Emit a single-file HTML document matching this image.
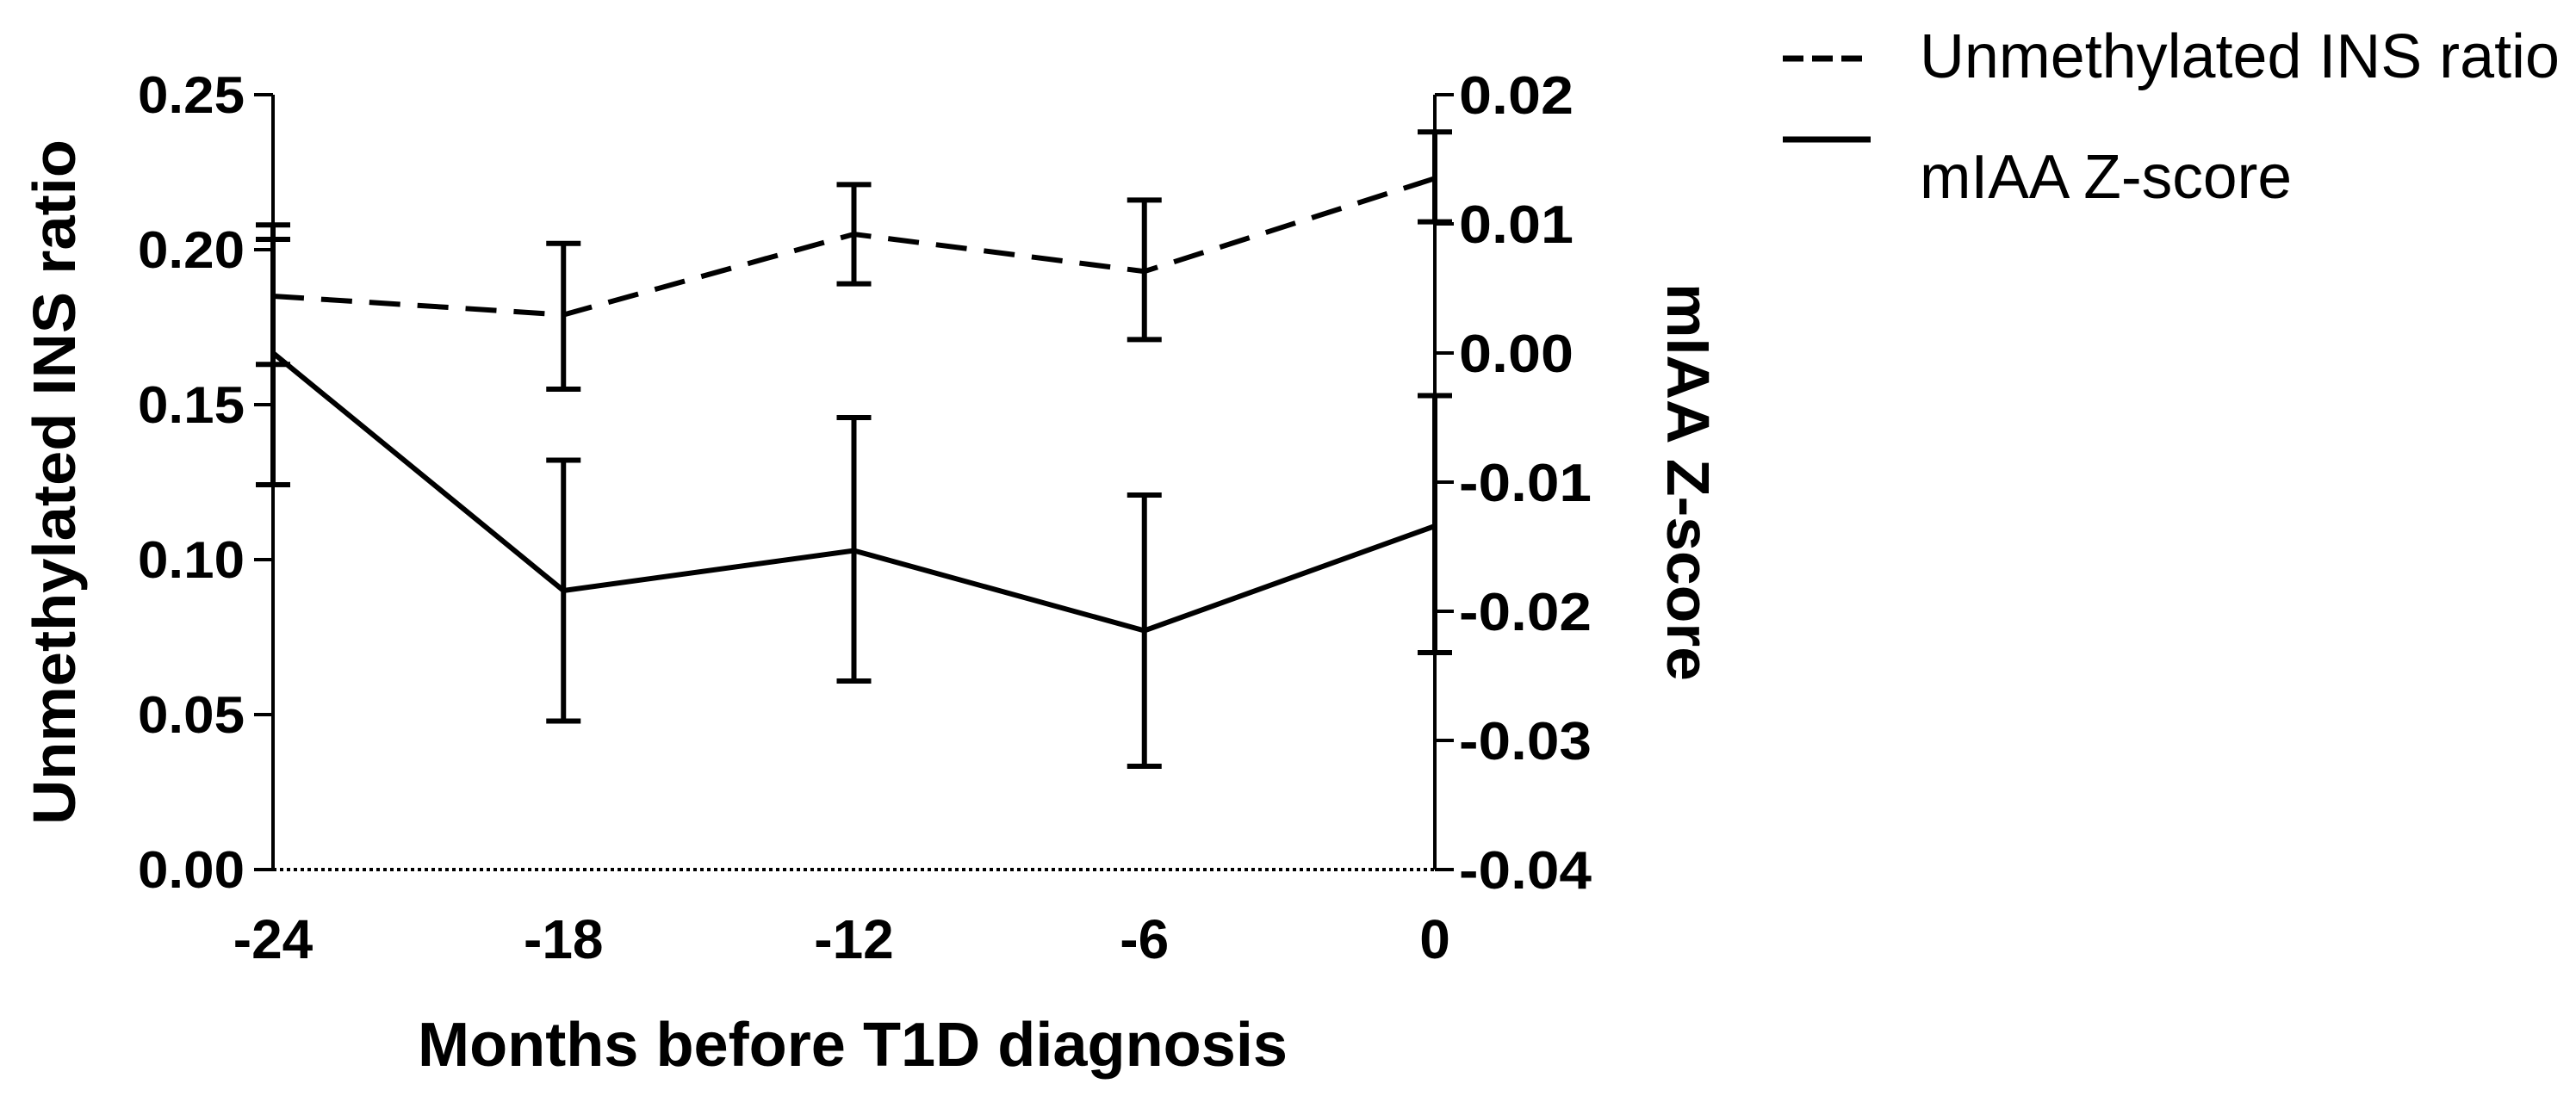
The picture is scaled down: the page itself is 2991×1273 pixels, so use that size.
<!DOCTYPE html>
<html><head><meta charset="utf-8"><style>
html,body{margin:0;padding:0;background:#fff;}
svg{display:block;font-family:"Liberation Sans",Arial,sans-serif;}
</style></head><body>
<svg id="chart" width="2991" height="1273" viewBox="0 0 2991 1273"></svg>
<script>
const months=[-24,-18,-12,-6,0];
const xTicks=["-24","-18","-12","-6","0"];
const insMean=[0.185,0.179,0.205,0.193,0.223];
const insUpper=[0.208,0.202,0.221,0.216,0.238];
const insLower=[0.163,0.155,0.189,0.171,0.209];
const zMean=[0.0,-0.0184,-0.0153,-0.0215,-0.0134];
const zUpper=[0.0088,-0.0083,-0.005,-0.011,-0.0033];
const zLower=[-0.0102,-0.0285,-0.0254,-0.032,-0.0232];
const leftTicks=[0,0.05,0.10,0.15,0.20,0.25];
const leftLabels=["0.00","0.05","0.10","0.15","0.20","0.25"];
const rightTicks=[-0.04,-0.03,-0.02,-0.01,0,0.01,0.02];
const rightLabels=["-0.04","-0.03","-0.02","-0.01","0.00","0.01","0.02"];

const X0=317,X1=1666,YT=110,YB=1010;
const xs=m=>X0+(m+24)/24*(X1-X0);
const yl=v=>YB-v/0.25*(YB-YT);
const yr=v=>YB-(v+0.04)/0.06*(YB-YT);
const svg=document.getElementById('chart');
const NS='http://www.w3.org/2000/svg';
function mk(t,a,txt){const e=document.createElementNS(NS,t);for(const k in a)e.setAttribute(k,a[k]);if(txt!==undefined)e.textContent=txt;svg.appendChild(e);return e;}

let e;
e=mk('line',{x1:X0,y1:YT,x2:X0,y2:YB,stroke:'#000','stroke-width':4});


e=mk('line',{x1:X1,y1:YT,x2:X1,y2:YB,stroke:'#000','stroke-width':4});


e=mk('line',{x1:X0,y1:YB,x2:X1,y2:YB,stroke:'#000','stroke-width':4,'stroke-dasharray':'4 4'});



leftTicks.forEach((v,i)=>{
  e=mk('line',{x1:X0-22,y1:yl(v),x2:X0,y2:yl(v),stroke:'#000','stroke-width':4});
  
  
  e=mk('text',{x:160,y:yl(v)+21,'font-size':60,'font-weight':'bold',textLength:124,lengthAdjust:'spacingAndGlyphs'},leftLabels[i]);
  
  
});
rightTicks.forEach((v,i)=>{
  e=mk('line',{x1:X1,y1:yr(v),x2:X1+22,y2:yr(v),stroke:'#000','stroke-width':4});
  
  
  e=mk('text',{x:X1+28,y:yr(v)+22,'text-anchor':'start','font-size':62,'font-weight':'bold',textLength:v<0?154:133,lengthAdjust:'spacingAndGlyphs'},rightLabels[i]);
  
  
});
months.forEach((m,i)=>{
  e=mk('text',{x:xs(m),y:1113,'text-anchor':'middle','font-size':64,'font-weight':'bold'},xTicks[i]);
  
  
});

function series(mean,up,lo,yf,dash,name){
  months.forEach((m,i)=>{
    const x=xs(m);
    e=mk('path',{d:`M${x} ${yf(up[i])}V${yf(lo[i])}M${x-20} ${yf(up[i])}H${x+20}M${x-20} ${yf(lo[i])}H${x+20}`,stroke:'#000','stroke-width':6,fill:'none'});
    
    
  });
  const d=months.map((m,i)=>(i?'L':'M')+xs(m)+' '+yf(mean[i])).join('');
  const a={d:d,stroke:'#000','stroke-width':6,fill:'none'};
  if(dash)a['stroke-dasharray']='36 20';
  e=mk('path',a);
  
  
}
series(insMean,insUpper,insLower,yl,true,'unmethylated-ins');
series(zMean,zUpper,zLower,yr,false,'miaa-zscore');

e=mk('text',{x:0,y:0,transform:'translate(87,560) rotate(-90)','text-anchor':'middle','font-size':70,'font-weight':'bold',textLength:796,lengthAdjust:'spacingAndGlyphs'},'Unmethylated INS ratio');


e=mk('text',{x:0,y:0,transform:'translate(1936,560) rotate(90)','text-anchor':'middle','font-size':70,'font-weight':'bold',textLength:462,lengthAdjust:'spacingAndGlyphs'},'mIAA Z-score');


e=mk('text',{x:990,y:1238,'text-anchor':'middle','font-size':72,'font-weight':'bold',textLength:1010,lengthAdjust:'spacingAndGlyphs'},'Months before T1D diagnosis');



e=mk('line',{x1:2070,y1:68,x2:2172,y2:68,stroke:'#000','stroke-width':7,'stroke-dasharray':'24 10'});


e=mk('text',{x:2229,y:90,'font-size':72,textLength:743,lengthAdjust:'spacingAndGlyphs'},'Unmethylated INS ratio');


e=mk('line',{x1:2070,y1:162,x2:2172,y2:162,stroke:'#000','stroke-width':7});


e=mk('text',{x:2229,y:230,'font-size':72,textLength:432,lengthAdjust:'spacingAndGlyphs'},'mIAA Z-score');


</script>
</body></html>
